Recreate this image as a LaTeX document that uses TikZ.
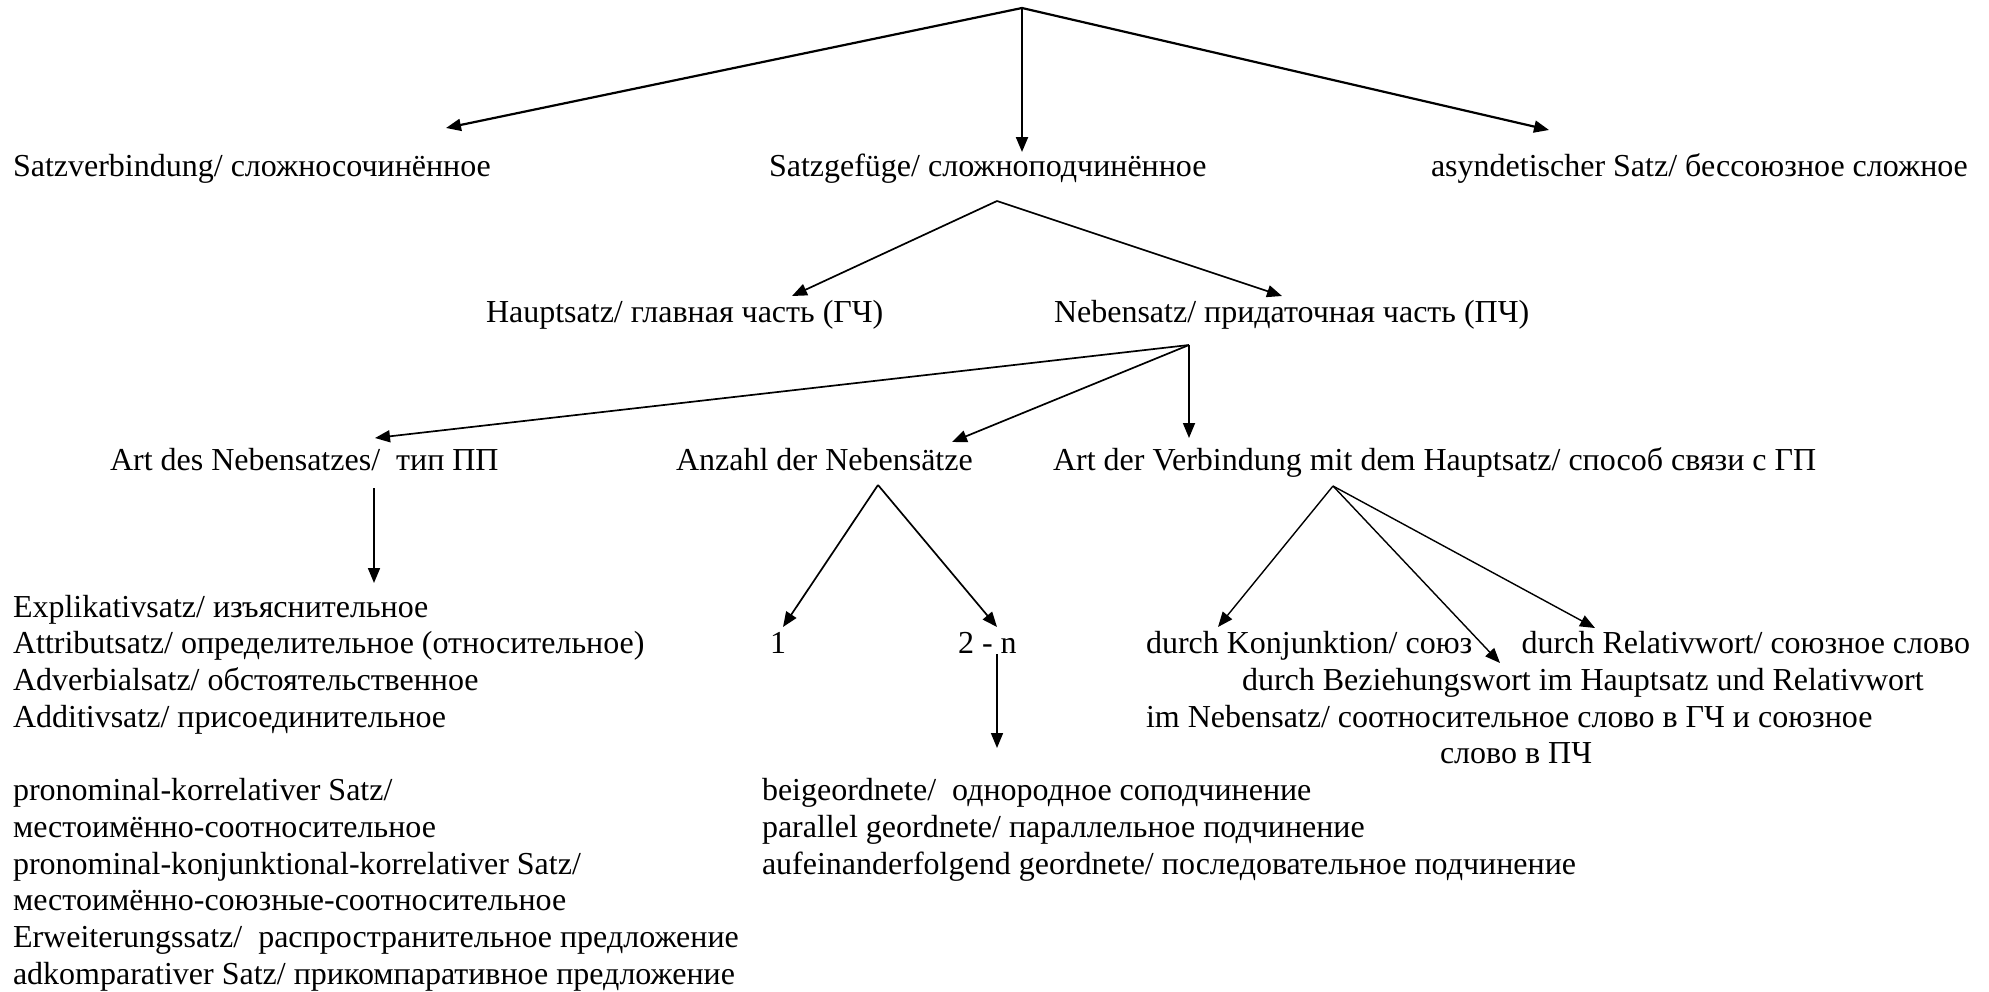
\documentclass[tikz,border=0pt]{standalone}
\usepackage{fontspec}
\setmainfont{Liberation Serif}
\usetikzlibrary{arrows.meta}
\begin{document}
\begin{tikzpicture}[x=1bp,y=-1bp,
  txt/.style={anchor=base west, inner sep=0pt, outer sep=0pt, font=\fontsize{32bp}{36.74bp}\selectfont},
  arr/.style={-{Triangle[length=15bp,width=12bp]}, line width=1.7bp},
  arrthick/.style={arr, line width=2.2bp},
  arrthin/.style={arr, line width=1.4bp}]
\useasboundingbox (0,0) rectangle (1989,992);
% row 1
\node[txt] (sv) at (13,176.1) {Satzverbindung/ сложносочинённое};
\node[txt] (sg) at (769,176.1) {Satzgefüge/ сложноподчинённое};
\node[txt] (as) at (1431,176.1) {asyndetischer Satz/ бессоюзное сложное};
% row 2
\node[txt] (hs) at (486,322) {Hauptsatz/ главная часть (ГЧ)};
\node[txt] (ns) at (1054,322) {Nebensatz/ придаточная часть (ПЧ)};
% row 3
\node[txt] (an) at (110,470) {Art des Nebensatzes/\ \ тип ПП};
\node[txt] (anz) at (676,470) {Anzahl der Nebensätze};
\node[txt] (av) at (1053,470) {Art der Verbindung mit dem Hauptsatz/ способ связи с ГП};
% left list
\node[txt] (l1) at (13,617.0) {Explikativsatz/ изъяснительное};
\node[txt] (l2) at (13,653.7) {Attributsatz/ определительное (относительное)};
\node[txt] (l3) at (13,690.5) {Adverbialsatz/ обстоятельственное};
\node[txt] (l4) at (13,727.2) {Additivsatz/ присоединительное};
\node[txt] (l5) at (13,800.7) {pronominal-korrelativer Satz/};
\node[txt] (l6) at (13,837.4) {местоимённо-соотносительное};
\node[txt] (l7) at (13,874.2) {pronominal-konjunktional-korrelativer Satz/};
\node[txt] (l8) at (13,910.9) {местоимённо-союзные-соотносительное};
\node[txt] (l9) at (13,947.6) {Erweiterungssatz/\ \ распространительное предложение};
\node[txt] (l10) at (13,984.4) {adkomparativer Satz/ прикомпаративное предложение};
% middle
\node[txt] (one) at (770,653.7) {1};
\node[txt] (two) at (958,653.7) {2 - n};
\node[txt] (m1) at (762,800.7) {beigeordnete/\ \ однородное соподчинение};
\node[txt] (m2) at (762,837.4) {parallel geordnete/ параллельное подчинение};
\node[txt] (m3) at (762,874.2) {aufeinanderfolgend geordnete/ последовательное подчинение};
% right
\node[txt] (r1) at (1146,653.7) {durch Konjunktion/ союз};
\node[txt, anchor=base east] (r2) at (1970,653.7) {durch Relativwort/ союзное слово};
\node[txt] (r3) at (1242,690.5) {durch Beziehungswort im Hauptsatz und Relativwort};
\node[txt] (r4) at (1146,727.2) {im Nebensatz/ соотносительное слово в ГЧ и союзное};
\node[txt] (r5) at (1440,763.9) {слово в ПЧ};
% connector points
\coordinate (top) at (1022,8);
\coordinate (svT) at (446,128);
\coordinate (sgT) at (1022,152);
\coordinate (asT) at (1549,130);
\coordinate (sgA) at (997,201);
\coordinate (hsT) at (792,296);
\coordinate (nsT) at (1282,296);
\coordinate (nsA) at (1189,345);
\coordinate (anT) at (375,438);
\coordinate (anzT) at (952,442);
\coordinate (avT) at (1189,438);
\coordinate (anA) at (374,488);
\coordinate (lT) at (374,583);
\coordinate (anzA) at (878,485);
\coordinate (oneT) at (783,627);
\coordinate (twoT) at (997,627);
\coordinate (twoA) at (997,654);
\coordinate (mT) at (997,748);
\coordinate (avA) at (1333,486);
\coordinate (r1T) at (1218,627);
\coordinate (r3T) at (1500,663);
\coordinate (r2T) at (1595,628);
% connectors
\draw[arrthick] (top) -- (svT);
\draw[arrthick] (top) -- (sgT);
\draw[arrthick] (top) -- (asT);
\draw[arr] (sgA) -- (hsT);
\draw[arr] (sgA) -- (nsT);
\draw[arr] (nsA) -- (anT);
\draw[arr] (nsA) -- (anzT);
\draw[arr] (nsA) -- (avT);
\draw[arr] (anA) -- (lT);
\draw[arr] (anzA) -- (oneT);
\draw[arr] (anzA) -- (twoT);
\draw[arr] (twoA) -- (mT);
\draw[arrthin] (avA) -- (r1T);
\draw[arrthin] (avA) -- (r3T);
\draw[arrthin] (avA) -- (r2T);
\end{tikzpicture}
\end{document}
